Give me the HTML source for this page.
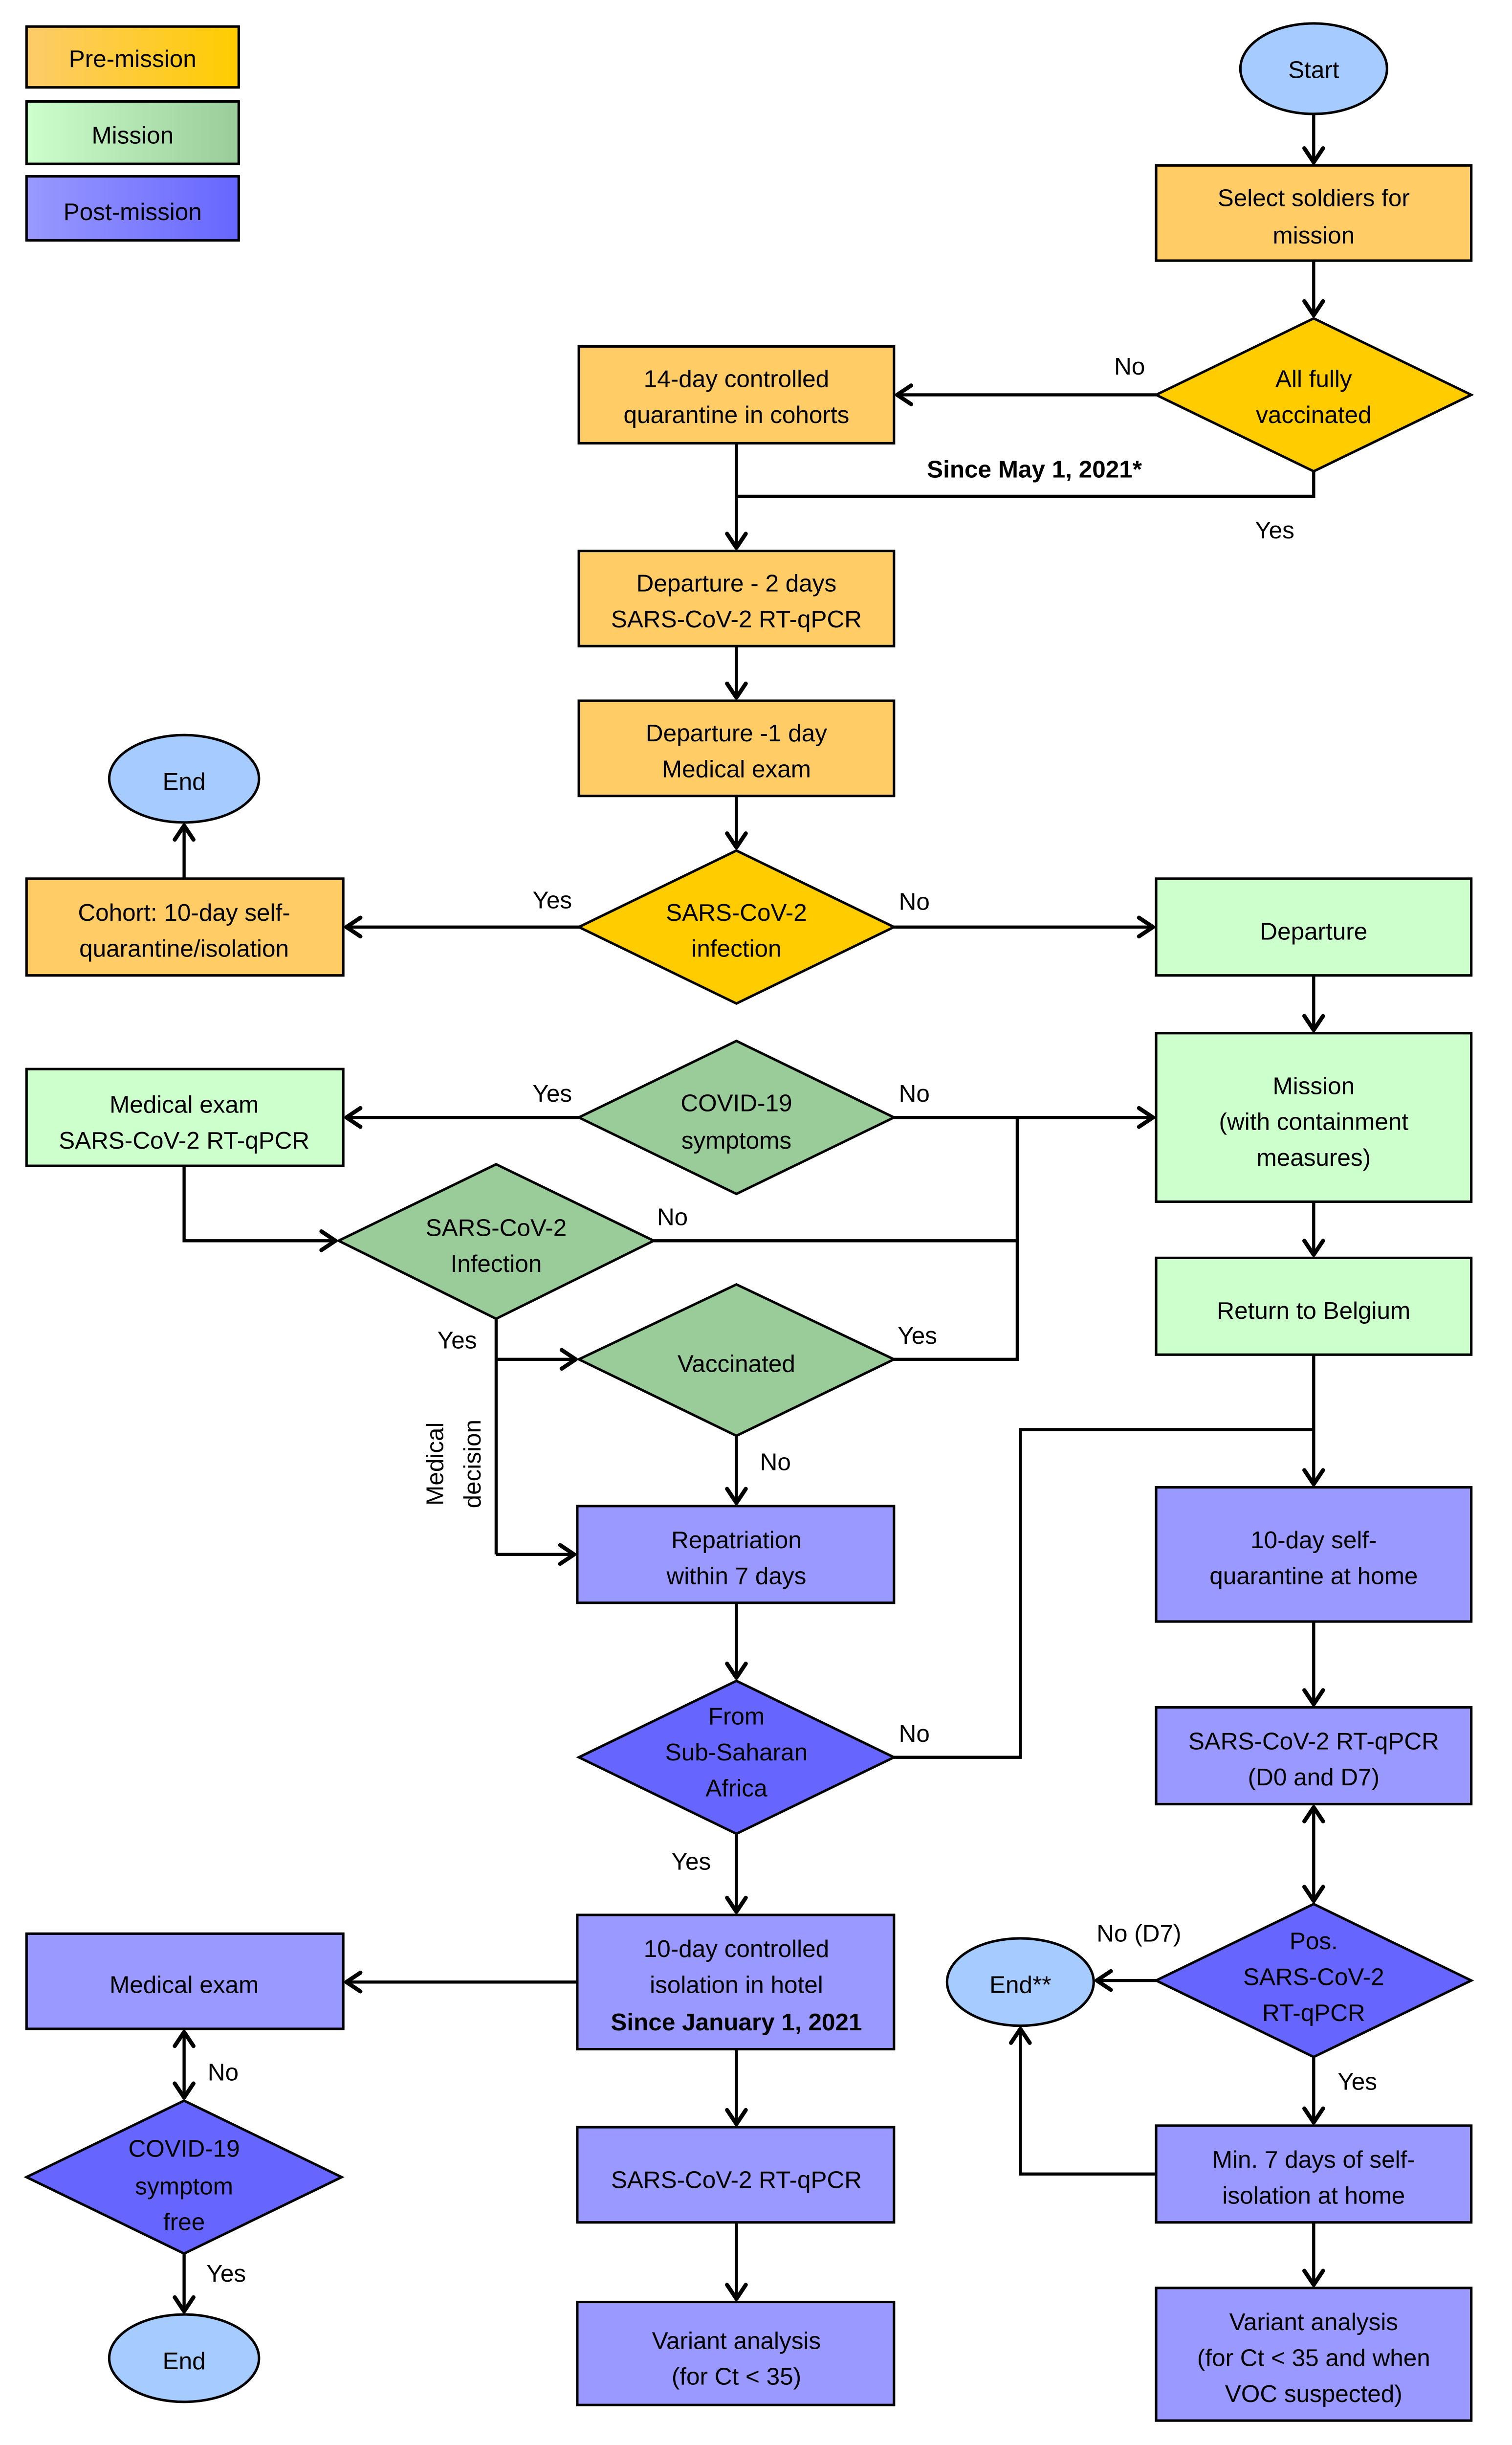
<!DOCTYPE html>
<html><head><meta charset="utf-8"><style>html,body{margin:0;padding:0;background:#fff;width:3093px;height:5057px;overflow:hidden}svg{display:block}</style></head><body>
<svg width="3093" height="5057" viewBox="0 0 969.1 1584.5" preserveAspectRatio="none" xmlns="http://www.w3.org/2000/svg" font-family="'Liberation Sans', sans-serif" font-size="15.5" text-anchor="middle">
<defs>
<marker id="a" markerUnits="userSpaceOnUse" markerWidth="16" markerHeight="16" refX="13" refY="8" orient="auto"><path d="M4,2 L13,8 L4,14" fill="none" stroke="#000" stroke-width="2.6" stroke-linecap="round" stroke-linejoin="round"/></marker>
<marker id="s" markerUnits="userSpaceOnUse" markerWidth="16" markerHeight="16" refX="3" refY="8" orient="auto"><path d="M12,2 L3,8 L12,14" fill="none" stroke="#000" stroke-width="2.6" stroke-linecap="round" stroke-linejoin="round"/></marker>
<linearGradient id="g1"><stop offset="0" stop-color="#FDCC6A"/><stop offset="1" stop-color="#FFCC00"/></linearGradient>
<linearGradient id="g2"><stop offset="0" stop-color="#CCFFCC"/><stop offset="1" stop-color="#99CC99"/></linearGradient>
<linearGradient id="g3"><stop offset="0" stop-color="#9999FF"/><stop offset="1" stop-color="#6666FF"/></linearGradient>
</defs>
<g stroke="#000" stroke-width="1.6">
<rect x="17" y="17" width="136" height="39" fill="url(#g1)"/>
<rect x="17" y="65" width="136" height="40" fill="url(#g2)"/>
<rect x="17" y="113" width="136" height="41" fill="url(#g3)"/>
<ellipse cx="842" cy="44" rx="47" ry="29" fill="#A6CCFF"/>
<rect x="741" y="106" width="202" height="61" fill="#FFCC66"/>
<polygon points="741,253 842,204 943,253 842,302" fill="#FFCC00"/>
<rect x="371" y="222" width="202" height="62" fill="#FFCC66"/>
<rect x="371" y="353" width="202" height="61" fill="#FFCC66"/>
<rect x="371" y="449" width="202" height="61" fill="#FFCC66"/>
<polygon points="371,594 472,545 573,594 472,643" fill="#FFCC00"/>
<rect x="17" y="563" width="203" height="62" fill="#FFCC66"/>
<ellipse cx="118" cy="499" rx="48" ry="28" fill="#A6CCFF"/>
<rect x="741" y="563" width="202" height="62" fill="#CCFFCC"/>
<rect x="741" y="662" width="202" height="108" fill="#CCFFCC"/>
<polygon points="371,716 472,667 573,716 472,765" fill="#99CC99"/>
<rect x="17" y="685" width="203" height="62" fill="#CCFFCC"/>
<polygon points="217,795 318,746 419,795 318,845" fill="#99CC99"/>
<polygon points="371,871 472,823 573,871 472,920" fill="#99CC99"/>
<rect x="741" y="806" width="202" height="62" fill="#CCFFCC"/>
<rect x="370" y="965" width="203" height="62" fill="#9999FF"/>
<polygon points="371,1126 472,1077 573,1126 472,1175" fill="#6666FF"/>
<rect x="741" y="953" width="202" height="86" fill="#9999FF"/>
<rect x="741" y="1094" width="202" height="62" fill="#9999FF"/>
<polygon points="741,1269 842,1220 943,1269 842,1318" fill="#6666FF"/>
<ellipse cx="654" cy="1270" rx="47" ry="28" fill="#A6CCFF"/>
<rect x="741" y="1362" width="202" height="62" fill="#9999FF"/>
<rect x="741" y="1466" width="202" height="85" fill="#9999FF"/>
<rect x="370" y="1227" width="203" height="86" fill="#9999FF"/>
<rect x="17" y="1239" width="203" height="61" fill="#9999FF"/>
<polygon points="17,1395 118,1346 219,1395 118,1444" fill="#6666FF"/>
<ellipse cx="118" cy="1511" rx="48" ry="28" fill="#A6CCFF"/>
<rect x="370" y="1363" width="203" height="61" fill="#9999FF"/>
<rect x="370" y="1475" width="203" height="66" fill="#9999FF"/>
</g>
<g stroke="#000" stroke-width="2" fill="none">
<line x1="842" y1="73" x2="842" y2="104" marker-end="url(#a)"/>
<line x1="842" y1="167" x2="842" y2="202" marker-end="url(#a)"/>
<line x1="741" y1="253" x2="575" y2="253" marker-end="url(#a)"/>
<polyline points="842,302 842,318 472,318"/>
<line x1="472" y1="284" x2="472" y2="351" marker-end="url(#a)"/>
<line x1="472" y1="414" x2="472" y2="447" marker-end="url(#a)"/>
<line x1="472" y1="510" x2="472" y2="543" marker-end="url(#a)"/>
<line x1="371" y1="594" x2="222" y2="594" marker-end="url(#a)"/>
<line x1="118" y1="563" x2="118" y2="529" marker-end="url(#a)"/>
<line x1="573" y1="594" x2="739" y2="594" marker-end="url(#a)"/>
<line x1="842" y1="625" x2="842" y2="660" marker-end="url(#a)"/>
<line x1="371" y1="716" x2="222" y2="716" marker-end="url(#a)"/>
<line x1="573" y1="716" x2="739" y2="716" marker-end="url(#a)"/>
<polyline points="118,747 118,795 215,795" marker-end="url(#a)"/>
<polyline points="419,795 652,795"/>
<polyline points="652,716 652,871 573,871"/>
<line x1="318" y1="845" x2="318" y2="996"/>
<line x1="318" y1="871" x2="369" y2="871" marker-end="url(#a)"/>
<line x1="318" y1="996" x2="368" y2="996" marker-end="url(#a)"/>
<line x1="472" y1="920" x2="472" y2="963" marker-end="url(#a)"/>
<line x1="842" y1="770" x2="842" y2="804" marker-end="url(#a)"/>
<line x1="842" y1="868" x2="842" y2="951" marker-end="url(#a)"/>
<polyline points="573,1126 654,1126 654,916 842,916"/>
<line x1="472" y1="1027" x2="472" y2="1075" marker-end="url(#a)"/>
<line x1="842" y1="1039" x2="842" y2="1092" marker-end="url(#a)"/>
<line x1="842" y1="1158" x2="842" y2="1218" marker-start="url(#s)" marker-end="url(#a)"/>
<line x1="741" y1="1269" x2="703" y2="1269" marker-end="url(#a)"/>
<line x1="842" y1="1318" x2="842" y2="1360" marker-end="url(#a)"/>
<polyline points="741,1393 654,1393 654,1300" marker-end="url(#a)"/>
<line x1="842" y1="1424" x2="842" y2="1464" marker-end="url(#a)"/>
<line x1="472" y1="1175" x2="472" y2="1225" marker-end="url(#a)"/>
<line x1="370" y1="1270" x2="222" y2="1270" marker-end="url(#a)"/>
<line x1="118" y1="1302" x2="118" y2="1344" marker-start="url(#s)" marker-end="url(#a)"/>
<line x1="118" y1="1444" x2="118" y2="1481" marker-end="url(#a)"/>
<line x1="472" y1="1313" x2="472" y2="1361" marker-end="url(#a)"/>
<line x1="472" y1="1424" x2="472" y2="1473" marker-end="url(#a)"/>
</g>
<g fill="#000">
<text x="85" y="43">Pre-mission</text>
<text x="85" y="92">Mission</text>
<text x="85" y="141">Post-mission</text>
<text x="842" y="50">Start</text>
<text x="842" y="132">Select soldiers for</text><text x="842" y="156">mission</text>
<text x="842" y="248">All fully</text><text x="842" y="271">vaccinated</text>
<text x="472" y="248">14-day controlled</text><text x="472" y="271">quarantine in cohorts</text>
<text x="724" y="240">No</text>
<text x="663" y="306" font-weight="bold">Since May 1, 2021*</text>
<text x="817" y="345">Yes</text>
<text x="472" y="379">Departure - 2 days</text><text x="472" y="402">SARS-CoV-2 RT-qPCR</text>
<text x="472" y="475">Departure -1 day</text><text x="472" y="498">Medical exam</text>
<text x="118" y="506">End</text>
<text x="472" y="590">SARS-CoV-2</text><text x="472" y="613">infection</text>
<text x="118" y="590">Cohort: 10-day self-</text><text x="118" y="613">quarantine/isolation</text>
<text x="354" y="582">Yes</text><text x="586" y="583">No</text>
<text x="842" y="602">Departure</text>
<text x="842" y="701">Mission</text><text x="842" y="724">(with containment</text><text x="842" y="747">measures)</text>
<text x="472" y="712">COVID-19</text><text x="472" y="736">symptoms</text>
<text x="354" y="706">Yes</text><text x="586" y="706">No</text>
<text x="118" y="713">Medical exam</text><text x="118" y="736">SARS-CoV-2 RT-qPCR</text>
<text x="318" y="792">SARS-CoV-2</text><text x="318" y="815">Infection</text>
<text x="431" y="785">No</text>
<text x="293" y="864">Yes</text>
<text x="588" y="861">Yes</text>
<text x="472" y="879">Vaccinated</text>
<text x="497" y="942">No</text>
<text transform="translate(284,938) rotate(-90)">Medical</text>
<text transform="translate(308,938) rotate(-90)">decision</text>
<text x="842" y="845">Return to Belgium</text>
<text x="472" y="992">Repatriation</text><text x="472" y="1015">within 7 days</text>
<text x="842" y="992">10-day self-</text><text x="842" y="1015">quarantine at home</text>
<text x="472" y="1105">From</text><text x="472" y="1128">Sub-Saharan</text><text x="472" y="1151">Africa</text>
<text x="586" y="1116">No</text>
<text x="443" y="1198">Yes</text>
<text x="842" y="1121">SARS-CoV-2 RT-qPCR</text><text x="842" y="1144">(D0 and D7)</text>
<text x="842" y="1249">Pos.</text><text x="842" y="1272">SARS-CoV-2</text><text x="842" y="1295">RT-qPCR</text>
<text x="730" y="1244">No (D7)</text>
<text x="654" y="1277">End**</text>
<text x="870" y="1339">Yes</text>
<text x="842" y="1389">Min. 7 days of self-</text><text x="842" y="1412">isolation at home</text>
<text x="842" y="1493">Variant analysis</text><text x="842" y="1516">(for Ct &lt; 35 and when</text><text x="842" y="1539">VOC suspected)</text>
<text x="472" y="1254">10-day controlled</text><text x="472" y="1277">isolation in hotel</text><text x="472" y="1301" font-weight="bold">Since January 1, 2021</text>
<text x="118" y="1277">Medical exam</text>
<text x="143" y="1333">No</text>
<text x="118" y="1382">COVID-19</text><text x="118" y="1406">symptom</text><text x="118" y="1429">free</text>
<text x="145" y="1462">Yes</text>
<text x="118" y="1518">End</text>
<text x="472" y="1402">SARS-CoV-2 RT-qPCR</text>
<text x="472" y="1505">Variant analysis</text><text x="472" y="1528">(for Ct &lt; 35)</text>
</g>
</svg>
</body></html>
